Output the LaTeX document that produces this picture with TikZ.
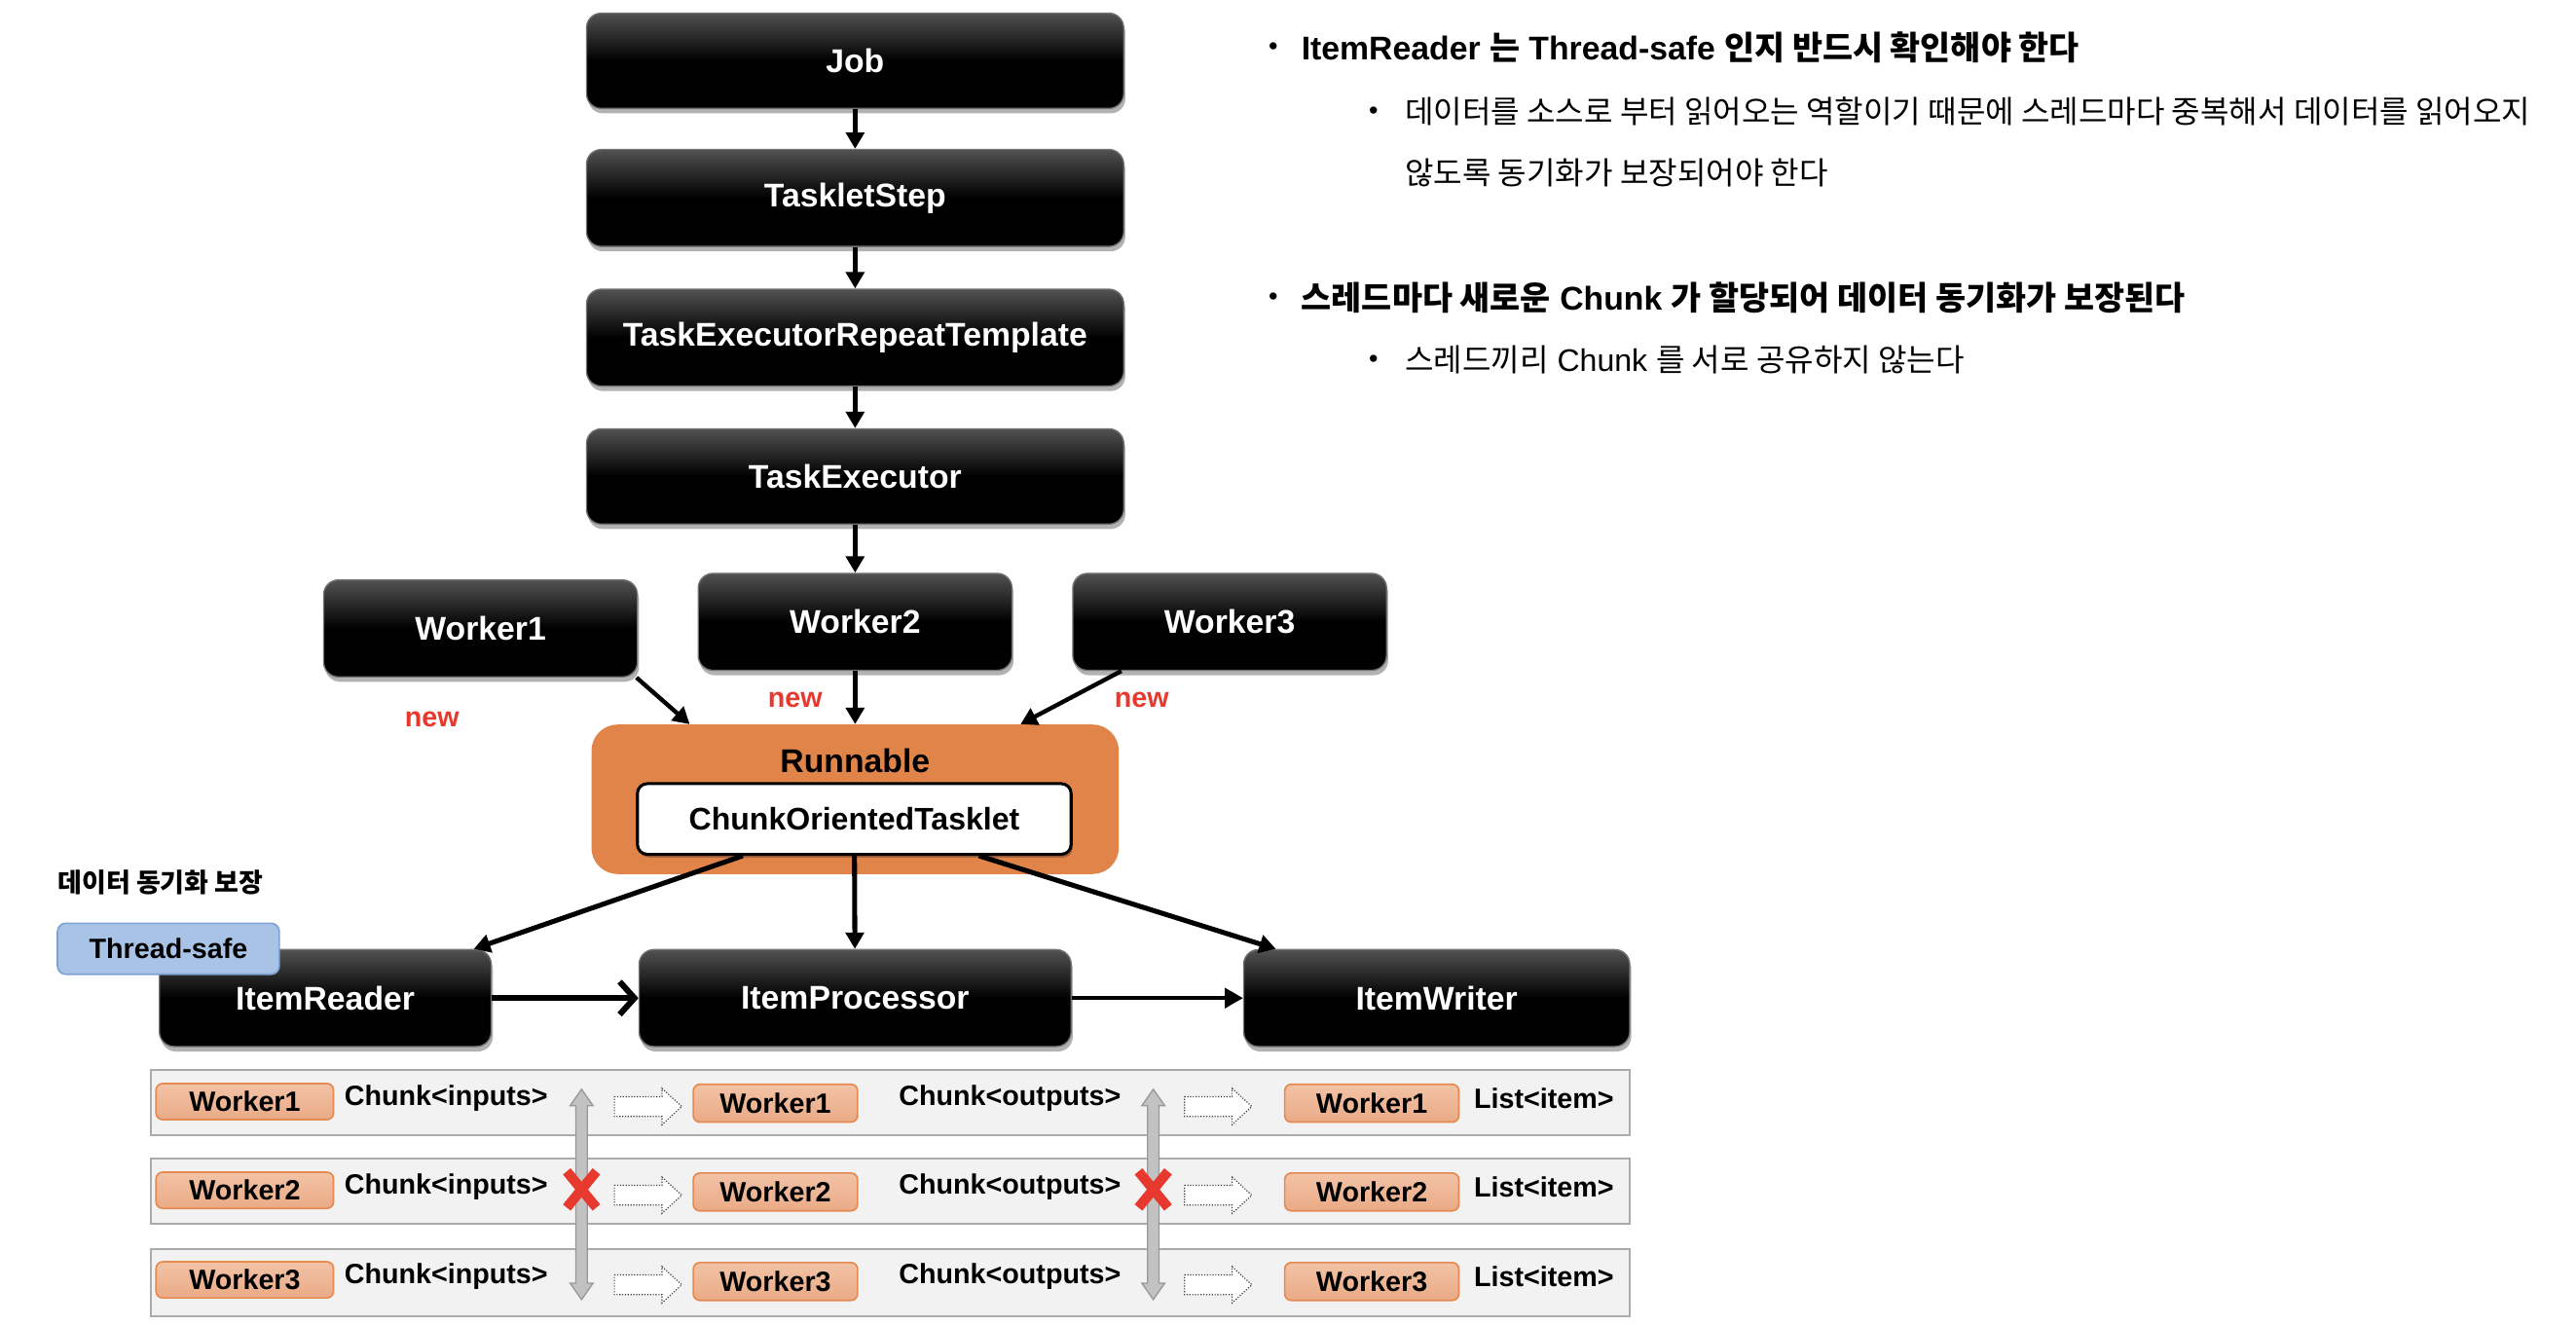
\documentclass[tikz,border=0pt]{standalone}
\usepackage{fontspec}
\setmainfont{Liberation Sans}
\newfontfamily\kr{Noto Sans CJK KR}[Scale=1.0]
\usetikzlibrary{arrows.meta,shadows}
\definecolor{runorange}{HTML}{E0844A}
\definecolor{salmontop}{HTML}{F2C3A6}
\definecolor{salmonbot}{HTML}{EAAA86}
\definecolor{salmonborder}{HTML}{E58A50}
\definecolor{tsblue}{HTML}{A8C3E6}
\definecolor{tsborder}{HTML}{7FA3D4}
\definecolor{xred}{HTML}{E8392E}
\definecolor{rowfill}{HTML}{F2F2F2}
\definecolor{rowborder}{HTML}{ABABAB}
\begin{document}
\begin{tikzpicture}[x=1pt,y=-1pt,
  bbox/.style={rounded corners=9pt, draw=black!55, line width=0.8pt,
    top color=black!68, bottom color=black, middle color=black,
    text=white, font=\fontsize{20}{24}\selectfont\bfseries, inner sep=0pt,
    drop shadow={shadow xshift=1pt, shadow yshift=-3pt, opacity=0.3, fill=black}},
  arr/.style={line width=2.6pt, -{Triangle[length=10pt,width=11pt]}},
  wbox/.style={rounded corners=4pt, draw=salmonborder, line width=1pt,
    top color=salmontop, bottom color=salmonbot,
    font=\fontsize{17}{20}\selectfont\bfseries, inner sep=0pt},
  rowbox/.style={draw=rowborder, fill=rowfill, line width=1.2pt},
  rtxt/.style={font=\fontsize{17}{20}\selectfont\bfseries, anchor=west, inner sep=0pt},
  newtxt/.style={text=xred, font=\fontsize{17}{20}\selectfont\bfseries, inner sep=0pt},
  bul/.style={font=\fontsize{16}{20}\selectfont, inner sep=0pt},
  hollow/.pic={\draw[black!75, line width=0.7pt, densely dotted, fill=white]
     (0,-6) -- (29,-6) -- (29,-11) -- (41,0) -- (29,11) -- (29,6) -- (0,6) -- cycle;},
  gdarrow/.pic={\draw[fill=black!24, draw=black!40, line width=0.8pt]
     (-3.5,-54) -- (-7,-54) -- (0,-64) -- (7,-54) -- (3.5,-54) -- (3.5,54) -- (7,54)
     -- (0,64) -- (-7,54) -- (-3.5,54) -- cycle;},
  redx/.pic={\draw[xred, line width=6pt] (-9,-11) -- (9,11) (9,-11) -- (-9,11);}
]
\fill[white] (0,0) rectangle (1568,807);
\useasboundingbox (0,0) rectangle (1568,807);

% main chain
\node[bbox, minimum width=327pt, minimum height=58pt] (job) at (520.5,37) {Job};
\node[bbox, minimum width=327pt, minimum height=59pt] (ts) at (520.5,120.5) {TaskletStep};
\node[bbox, minimum width=327pt, minimum height=59pt] (trt) at (520.5,205.5) {TaskExecutorRepeatTemplate};
\node[bbox, minimum width=327pt, minimum height=58pt] (te) at (520.5,290) {TaskExecutor};
\draw[arr] (job) -- (ts);
\draw[arr] (ts) -- (trt);
\draw[arr] (trt) -- (te);

% workers
\node[bbox, minimum width=191pt, minimum height=59pt] (w1) at (292.5,382.5) {Worker1};
\node[bbox, minimum width=191pt, minimum height=59pt] (w2) at (520.5,378.5) {Worker2};
\node[bbox, minimum width=191pt, minimum height=59pt] (w3) at (748.5,378.5) {Worker3};
\draw[arr] (te) -- (w2);

% runnable
\node[rounded corners=16pt, fill=runorange, minimum width=321pt, minimum height=91pt, inner sep=0pt] (run) at (520.5,486.5) {};
\node[font=\fontsize{20}{24}\selectfont\bfseries, inner sep=0pt] (runlbl) at (520.5,463) {Runnable};
\node[rounded corners=6pt, draw=black, line width=1.8pt, fill=white, minimum width=264pt, minimum height=43pt,
      inner sep=0pt, font=\fontsize{19}{23}\selectfont\bfseries,
      drop shadow={shadow xshift=1pt, shadow yshift=-2pt, opacity=0.25, fill=black}] (cot) at (520,498.5) {ChunkOrientedTasklet};

\draw[arr] ([xshift=-1pt]w1.south east) -- ([xshift=60pt]run.north west);
\draw[arr] (w2) -- (run);
\draw[arr] ([xshift=30pt]w3.south west) -- ([xshift=-60pt]run.north east);
\node[newtxt] (new1) at (263,438) {new};
\node[newtxt] (new2) at (484,426) {new};
\node[newtxt] (new3) at (695,426) {new};

% item nodes
\node[bbox, minimum width=202pt, minimum height=59pt] (ir) at (198,607.5) {ItemReader};
\node[bbox, minimum width=263pt, minimum height=59pt] (ip) at (520.5,607.5) {ItemProcessor};
\node[bbox, minimum width=235pt, minimum height=59pt] (iw) at (874.5,607.5) {ItemWriter};
\node[rounded corners=5pt, draw=tsborder, line width=1pt, fill=tsblue, minimum width=135pt, minimum height=31pt,
      inner sep=0pt, font=\fontsize{17}{20}\selectfont\bfseries] (tsafe) at (102.5,577.5) {Thread-safe};
\node[anchor=west, inner sep=0pt, font=\fontsize{16}{20}\selectfont\bfseries] (synclbl) at (35,537) {\kr 데이터 동기화 보장};

\draw[arr, line width=3pt] ([xshift=65pt]cot.south west) -- ([xshift=-11pt]ir.north east);
\draw[arr, line width=3pt] (cot) -- (ip);
\draw[arr, line width=3pt] ([xshift=-57pt]cot.south east) -- ([xshift=20pt]iw.north west);
\draw[line width=3.6pt, -{Straight Barb[length=9pt,width=20pt,line width=3.6pt]}] (ir) -- (ip);
\draw[line width=2pt, -{Triangle[length=11pt,width=12pt]}] (ip) -- (iw);

% rows
\node[rowbox, minimum width=900pt, minimum height=40pt, inner sep=0pt] (row1) at (542,671) {};
\node[rowbox, minimum width=900pt, minimum height=40pt, inner sep=0pt] (row2) at (542,725) {};
\node[rowbox, minimum width=900pt, minimum height=41pt, inner sep=0pt] (row3) at (542,780.5) {};

\foreach \i/\y in {1/670.5,2/724.5,3/779}{
  \node[wbox, minimum width=108pt, minimum height=22pt] (wa\i) at (149,\y) {Worker\i};
  \node[rtxt] (ci\i) at (209.5,\y-2) {Chunk<inputs>};
  \pic (ha\i) at (374,\y+3) {hollow};
  \node[wbox, minimum width=100pt, minimum height=23pt] (wb\i) at (472,\y+1) {Worker\i};
  \node[rtxt] (co\i) at (547,\y-2) {Chunk<outputs>};
  \pic (hb\i) at (721,\y+3) {hollow};
  \node[wbox, minimum width=106pt, minimum height=23pt] (wc\i) at (835,\y+1) {Worker\i};
  \node[rtxt] (li\i) at (897,\y-2) {List<item>};
}
\pic (ga) at (354,727) {gdarrow};
\pic (gb) at (702,727) {gdarrow};
\pic (xa) at (354,724) {redx};
\pic (xb) at (702,724) {redx};

% right-hand notes
\node[bul] (b1dot) at (775,30) {•};
\node[anchor=west, inner sep=0pt, font=\fontsize{20}{24}\selectfont\bfseries] (b1) at (792,29)
  {ItemReader {\kr 는} Thread-safe {\kr 인지 반드시 확인해야 한다}};
\node[bul] (s1dot) at (836,69) {•};
\node[anchor=west, inner sep=0pt, font=\fontsize{19}{23}\selectfont] (s1a) at (855,68)
  {\kr 데이터를 소스로 부터 읽어오는 역할이기 때문에 스레드마다 중복해서 데이터를 읽어오지};
\node[anchor=west, inner sep=0pt, font=\fontsize{19}{23}\selectfont] (s1b) at (855,105)
  {\kr 않도록 동기화가 보장되어야 한다};
\node[bul] (b2dot) at (775,182) {•};
\node[anchor=west, inner sep=0pt, font=\fontsize{20}{24}\selectfont\bfseries] (b2) at (792,181)
  {{\kr 스레드마다 새로운} Chunk {\kr 가 할당되어 데이터 동기화가 보장된다}};
\node[bul] (s2dot) at (836,220) {•};
\node[anchor=west, inner sep=0pt, font=\fontsize{19}{23}\selectfont] (s2) at (855,219)
  {{\kr 스레드끼리} Chunk {\kr 를 서로 공유하지 않는다}};
\end{tikzpicture}
\end{document}
